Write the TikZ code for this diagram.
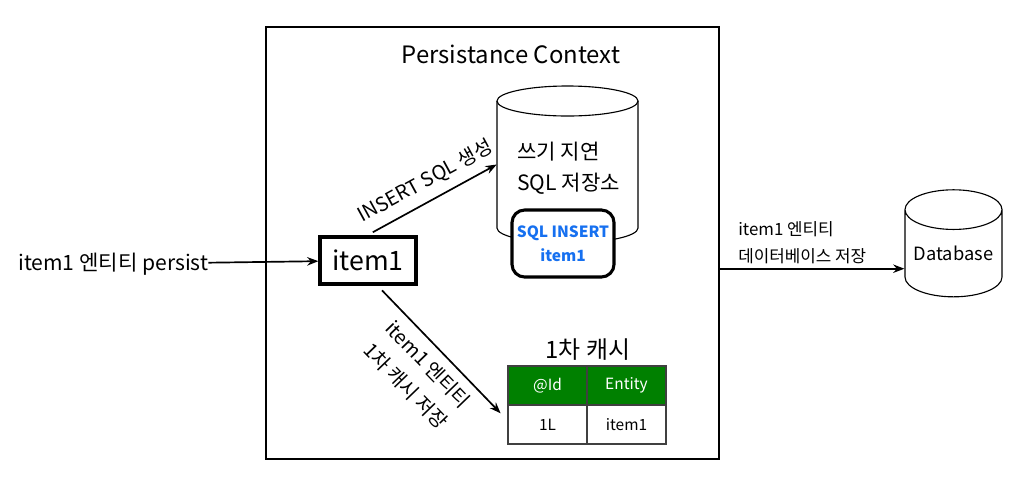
\documentclass[tikz,border=0pt]{standalone}
\usepackage{fontspec}
\setmainfont{Noto Sans CJK KR}
\usetikzlibrary{arrows.meta}
\usetikzlibrary{shapes.geometric}
\definecolor{cachegreen}{RGB}{0,128,0}
\definecolor{sqlblue}{RGB}{22,112,240}

\begin{document}
\begin{tikzpicture}[x=0.025cm, y=-0.025cm,
		every node/.style={font=\fontsize{13}{18}\selectfont},
		arrowline/.style={-{Stealth[length=8pt,width=6pt]}, line width=1.2pt},
		entitybox/.style={draw, line width=2.2pt, inner sep=0pt},
		drum/.style={draw, cylinder, shape border rotate=90, line width=0.8pt, inner sep=0pt},
		cell/.style={draw=black!75, line width=0.8pt, minimum width=1.975cm, minimum height=0.975cm, inner sep=0pt, font=\fontsize{11}{13}\selectfont}]
		\useasboundingbox (0,0) rectangle (1020,482);
		%
		%Persistance Context
		\node[draw, line width=1.4pt, minimum width=11.325cm, minimum height=10.8cm, inner sep=0pt] (ctx) at (492.5,243) {};
		\node[font=\fontsize{17}{19}\selectfont] (ctxtitle) at (511,54) {Persistance Context};
		%
		%persist
		\node[anchor=west, inner sep=0pt, font=\fontsize{15}{17}\selectfont] (persist) at (18,264) {item1 엔티티 persist};
		\node[entitybox, minimum width=2.4cm, minimum height=1.175cm, font=\fontsize{19}{21}\selectfont] (item) at (368,260.5) {item1};
		\draw[arrowline] (persist) -- (item);
		%
		%SQL store
		\node[minimum width=3.525cm, minimum height=3.6cm, inner sep=0pt] (store) at (567.5,164.5) {};
		\draw[line width=0.8pt] (567.5,101) ellipse[x radius=70.5, y radius=15];
		\draw[line width=0.8pt] (497,101) -- (497,228) arc[start angle=180, end angle=0, x radius=70.5, y radius=15] -- (638,101);
		\node[anchor=west, align=left, inner sep=0pt, font=\fontsize{15}{22}\selectfont] (storetext) at (517,168) {쓰기 지연\\SQL 저장소};
		\node[entitybox, fill=white, rounded corners=9pt, minimum width=2.55cm, minimum height=1.675cm,
			align=center, text=sqlblue, font=\bfseries\fontsize{11}{17}\selectfont] (sqlbox) at (563,243.5) {SQL INSERT\\item1};
		%
		%Pfeil item1-store
		\draw[arrowline] ([xshift=0.12cm,yshift=0.08cm]item.north) -- node[sloped, above=1mm, font=\fontsize{14}{16}\selectfont]{INSERT SQL 생성} (store.west);
		%
		%1st cache
		\node[font=\fontsize{17}{19}\selectfont] (cachetitle) at (588,350) {1차 캐시};
		\node[cell, fill=cachegreen, text=white] (idhead) at (547.5,385.5) {@Id};
		\node[cell, fill=cachegreen, text=white] (enthead) at (626.5,385.5) {Entity};
		\node[cell] (idval) at (547.5,424.5) {1L};
		\node[cell] (entval) at (626.5,424.5) {item1};
		%
		%Pfeil item1-cache
		\draw[arrowline] ([xshift=0.35cm,yshift=-0.12cm]item.south) -- node[sloped, below=1mm, align=center, font=\fontsize{14}{22}\selectfont]{item1 엔티티\\1차 캐시 저장} ([xshift=-0.17cm,yshift=0.28cm]idval.west);
		%
		%Database
		\node[drum, aspect=0.5, minimum width=2.425cm, minimum height=2.675cm, font=\fontsize{13}{15}\selectfont] (db) at (953.5,253.5) {Database};
		\coordinate (dbin) at ([yshift=-0.38cm]db.west);
		\draw[arrowline] (ctx.east |- dbin) -- (dbin);
		\node[anchor=west, align=left, inner sep=0pt, font=\fontsize{12}{19}\selectfont] (dblabel) at (738,243) {item1 엔티티\\데이터베이스 저장};
	\end{tikzpicture}
\end{document}
